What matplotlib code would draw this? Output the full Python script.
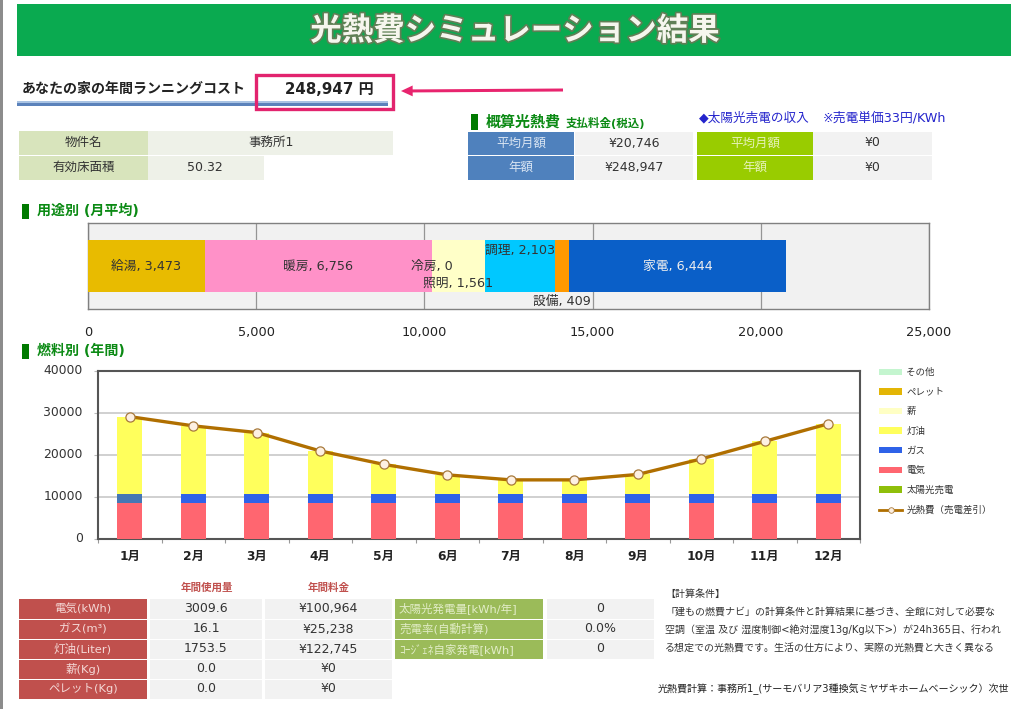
import matplotlib
matplotlib.use("Agg")
import matplotlib.pyplot as plt
import matplotlib.patheffects as pe
from matplotlib.patches import Rectangle, Patch
from matplotlib.lines import Line2D
from matplotlib.transforms import ScaledTranslation
import numpy as np

W, H = 1024, 709
plt.rcParams['font.family'] = ['DejaVu Sans', 'Noto Sans CJK JP']

# ---------- data ----------
use_names = ['給湯', '暖房', '冷房', '照明', '調理', '設備', '家電']
use_values = [3473, 6756, 0, 1561, 2103, 409, 6444]
use_colors = ['#e8bb00', '#ff91c8', '#ffc8dc', '#ffffc8', '#00c8ff', '#ff9900', '#0a5fc8']
use_label_dy = [0, 0, 0, 17, -16, 35, 0]
use_label_col = ['#333333', '#333333', '#333333', '#333333', '#333333', '#333333', '#eeeeee']

months = ['1月', '2月', '3月', '4月', '5月', '6月', '7月', '8月', '9月', '10月', '11月', '12月']
electric = [8414] * 12
gas = [2103] * 12
kerosene = [18583, 16383, 14783, 10383, 7183, 4683, 3483, 3483, 4783, 8483, 12683, 16883]
firewood = [0] * 12
pellet = [0] * 12
other = [0] * 12
solar = [0] * 12
net_cost = [29100, 26900, 25300, 20900, 17700, 15200, 14000, 14000, 15300, 19000, 23200, 27400]

fuel_names = ['電気(kWh)', 'ガス(m³)', '灯油(Liter)', '薪(Kg)', 'ペレット(Kg)']
fuel_usage = ['3009.6', '16.1', '1753.5', '0.0', '0.0']
fuel_cost = ['¥100,964', '¥25,238', '¥122,745', '¥0', '¥0']
gen_names = ['太陽光発電量[kWh/年]', '売電率(自動計算)', 'ｺｰｼﾞｪﾈ自家発電[kWh]']
gen_values = ['0', '0.0%', '0']
notes = ['【計算条件】',
         '「建もの燃費ナビ」の計算条件と計算結果に基づき、全館に対して必要な',
         '空調（室温 及び 湿度制御<絶対湿度13g/Kg以下>）が24h365日、行われ',
         'る想定での光熱費です。生活の仕方により、実際の光熱費と大きく異なる']

# ---------- canvas ----------
fig = plt.figure(figsize=(W / 100, H / 100), dpi=100, facecolor='white')
bg = fig.add_axes([0, 0, 1, 1])
bg.set_xlim(0, W); bg.set_ylim(H, 0); bg.axis('off')


def T(x, y, s, px, color='#333333', ha='center', weight='normal', **kw):
    return bg.text(x, y, s, fontsize=px * 0.72, color=color, ha=ha, va='center',
                   fontweight=weight, **kw)


def R(x0, y0, x1, y1, color, **kw):
    bg.add_patch(Rectangle((x0, y0), x1 - x0, y1 - y0, facecolor=color, edgecolor='none', **kw))


def cell(x0, y0, x1, y1, color, s=None, px=12.5, tc='#333333', tx=None):
    R(x0, y0, x1, y1, color)
    if s is not None:
        T((x0 + x1) / 2 if tx is None else tx, (y0 + y1) / 2 - 0.5, s, px, color=tc)


def pane(l, t, r, b):
    return fig.add_axes([l / W, 1 - b / H, (r - l) / W, (b - t) / H])


# page edge
R(0, 0, 3, H, '#8c8c8c')

# title band
R(17, 4, 1011, 56, '#0aaa50')
T(515, 31, '光熱費シミュレーション結果', 31.5, color='#f6f6ee', weight='bold',
  path_effects=[pe.withStroke(linewidth=2.5, foreground='#5f7f55')])

# running cost
T(22, 89, 'あなたの家の年間ランニングコスト', 14, color='#222222', ha='left', weight='bold')
R(17, 100.5, 388, 103, '#a9c3e3')
R(17, 103, 388, 106, '#5b82bb')
T(329, 90, '248,947 円', 15, color='#222222', weight='bold')
bg.add_patch(Rectangle((256, 75), 137, 34, facecolor='none', edgecolor='#e2246e', linewidth=2.4))
bg.annotate('', xy=(401, 91), xytext=(563, 90),
            arrowprops=dict(arrowstyle='simple,head_length=0.7,head_width=0.65,tail_width=0.18',
                            color='#e8246e', lw=0, mutation_scale=12, shrinkA=0, shrinkB=0))

# property table
cell(19, 131, 148, 155, '#d8e4bc', '物件名')
cell(148, 131, 393, 155, '#eef1e8', '事務所1', tx=271)
cell(19, 156, 148, 180, '#d8e4bc', '有効床面積')
cell(148, 156, 264, 180, '#eef1e8', '50.32', tx=205)

# estimate tables
green = '#0b8a14'
R(471, 114, 478, 129.5, '#007a00')
T(486, 122, '概算光熱費', 15, color=green, ha='left', weight='bold')
T(566, 123, '支払料金(税込)', 11.5, color=green, ha='left', weight='bold')
T(699, 118, '◆太陽光売電の収入', 12.6, color='#2424cc', ha='left')
T(823, 118, '※売電単価33円/KWh', 12.8, color='#2424cc', ha='left')
for (y0, y1), lab, a, b in [((132, 155), '平均月額', '¥20,746', '¥0'),
                            ((156, 180), '年額', '¥248,947', '¥0')]:
    cell(468, y0, 574, y1, '#4f81bd', lab, tc='#d8e4f2')
    cell(575, y0, 693, y1, '#f2f2f2', a)
    cell(697, y0, 813, y1, '#99cc00', lab, tc='#e6f2b8')
    cell(813, y0, 932, y1, '#f2f2f2', b)

# section heads
for y, s in [(211, '用途別 (月平均)'), (351, '燃料別 (年間)')]:
    R(22, y - 7.5, 29, y + 7.5, '#007a00')
    T(37, y, s, 14, color=green, ha='left', weight='bold')

# ---------- stacked horizontal bar ----------
ax1 = pane(88, 223, 929, 309)
ax1.set_facecolor('#f1f1f1')
ax1.set_xlim(0, 25000); ax1.set_ylim(-0.84, 0.84)
left = 0
for name, v, c, dy, tc in zip(use_names, use_values, use_colors, use_label_dy, use_label_col):
    ax1.barh(0, v, left=left, height=1, color=c, zorder=3)
    ax1.annotate(f'{name}, {v:,}', xy=(left + v / 2, 0), xytext=(0, -dy * 0.72),
                 textcoords='offset points', ha='center', va='center',
                 fontsize=9.2, color=tc, zorder=5, annotation_clip=False)
    left += v
ax1.set_xticks(np.arange(0, 25001, 5000))
ax1.set_xticklabels([f'{t:,}' for t in range(0, 25001, 5000)], fontsize=9.3, color='#222222')
ax1.set_yticks([])
ax1.grid(axis='x', color='#959595', lw=0.9, zorder=1)
ax1.tick_params(axis='x', length=0, pad=12)
for s in ax1.spines.values():
    s.set_color('#808080'); s.set_linewidth(1.0)

# ---------- monthly stacked bars + line ----------
ax2 = pane(98, 371, 860, 538.5)
x = np.arange(12)
ax2.set_xlim(-0.5, 11.5); ax2.set_ylim(0, 40000)
colors = {'電気': '#ff6670', 'ガス': '#2f62e8', '灯油': '#ffff5c', '薪': '#ffffc4',
          'ペレット': '#e3b505', 'その他': '#c4f5cf', '太陽光売電': '#8fbf0a'}
bw = 0.4
bottom = np.zeros(12)
bars = {}
for name, vals in [('太陽光売電', solar), ('電気', electric), ('ガス', gas), ('灯油', kerosene),
                   ('薪', firewood), ('ペレット', pellet), ('その他', other)]:
    bars[name] = ax2.bar(x, vals, bw, bottom=bottom, color=colors[name], zorder=3)
    bottom += np.array(vals)
bars['ガス'][0].set_facecolor('#4577b4')
line, = ax2.plot(x, net_cost, color='#b06f00', lw=2.4, marker='o', ms=6.6,
                 mfc='#fdf0e2', mec='#a87a3c', mew=0.9, zorder=5, clip_on=False)
ax2.set_yticks([0, 10000, 20000, 30000, 40000])
ax2.set_yticklabels(['0', '10000', '20000', '30000', '40000'], fontsize=8.9, color='#333333')
ax2.set_xticks(x)
ax2.set_xticklabels(months, fontsize=8.8, fontweight='bold', color='#222222')
ax2.set_xticks(np.arange(-0.5, 12, 1), minor=True)
ax2.tick_params(axis='x', which='major', length=0, pad=8)
ax2.tick_params(axis='x', which='minor', length=3, color='#999999', width=0.8)
ax2.tick_params(axis='y', length=3, color='#bbbbbb', pad=8)
shift = ScaledTranslation(0, 2 / 100, fig.dpi_scale_trans)
for lab in ax2.get_yticklabels():
    lab.set_transform(lab.get_transform() + shift)
ax2.grid(axis='y', color='#c8c8c8', lw=1.2, zorder=1)
for s in ax2.spines.values():
    s.set_color('#555555'); s.set_linewidth(1.5)

legend_order = ['その他', 'ペレット', '薪', '灯油', 'ガス', '電気', '太陽光売電']
handles = [Patch(facecolor=colors[n], edgecolor='none') for n in legend_order]
handles.append(Line2D([0], [0], color='#b06f00', lw=2, marker='o', ms=4, mfc='#fdf0e2', mec='#a87a3c', mew=0.6))
labels = legend_order + ['光熱費（売電差引）']
fig.legend(handles, labels, loc='upper left', bbox_to_anchor=(879 / W, 1 - 368 / H), frameon=False,
           fontsize=6.8, labelcolor='#333333', handlelength=2.45, handleheight=0.65,
           labelspacing=1.12, handletextpad=0.45, borderpad=0, borderaxespad=0)

# ---------- bottom tables ----------
T(207, 588, '年間使用量', 10.5, color='#c0504d', weight='bold')
T(329, 588, '年間料金', 10.5, color='#c0504d', weight='bold')
rows = [(599, 619), (620, 639), (640, 659), (660, 679), (680, 699)]
for (y0, y1), n, u, c in zip(rows, fuel_names, fuel_usage, fuel_cost):
    cell(19, y0, 147, y1, '#c0504d', n, px=11.5, tc='#f4d8d6')
    cell(150, y0, 262, y1, '#f2f2f2', u)
    cell(265, y0, 392, y1, '#f2f2f2', c)
for (y0, y1), n, v in zip(rows[:3], gen_names, gen_values):
    R(395, y0, 543, y1, '#9bbb59')
    T(399, (y0 + y1) / 2 - 0.5, n, 11.5, color='#e2edc8', ha='left')
    cell(547, y0, 654, y1, '#f2f2f2', v)
for y, s in zip([594, 612, 630, 648], notes):
    T(665, y, s, 10.0, ha='left', color='#333333')
T(658, 689, '光熱費計算：事務所1_(サーモバリア3種換気ミヤザキホームベーシック）次世', 10.05, ha='left', color='#222222')

fig.savefig('out.png', dpi=100)
